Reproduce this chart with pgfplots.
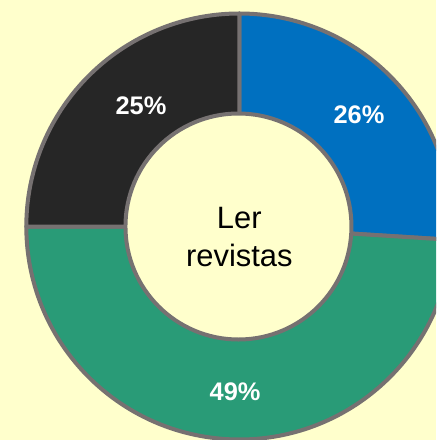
\documentclass[border=0pt]{standalone}
\usepackage{pgfplots}
\usepackage{pgfplotstable}
\pgfplotsset{compat=1.18}
\usepackage{fontspec}
\setmainfont{Liberation Sans}
\definecolor{bg}{HTML}{FFFFCC}
\definecolor{cblue}{HTML}{0070C0}
\definecolor{cgreen}{HTML}{299B77}
\definecolor{cblack}{HTML}{262626}
\definecolor{cborder}{HTML}{767171}
\pgfplotstableread{
value lx ly
26 0.562 0.5235
49 -0.020 -0.777
25 -0.4615 0.5657
}\slices
\begin{document}
\begin{tikzpicture}
\pgfplotstablegetelem{0}{value}\of\slices \let\vA\pgfplotsretval
\pgfplotstablegetelem{1}{value}\of\slices \let\vB\pgfplotsretval
\pgfplotstablegetelem{2}{value}\of\slices \let\vC\pgfplotsretval
\pgfplotstablegetelem{0}{lx}\of\slices \let\xA\pgfplotsretval
\pgfplotstablegetelem{1}{lx}\of\slices \let\xB\pgfplotsretval
\pgfplotstablegetelem{2}{lx}\of\slices \let\xC\pgfplotsretval
\pgfplotstablegetelem{0}{ly}\of\slices \let\yA\pgfplotsretval
\pgfplotstablegetelem{1}{ly}\of\slices \let\yB\pgfplotsretval
\pgfplotstablegetelem{2}{ly}\of\slices \let\yC\pgfplotsretval
\pgfmathsetmacro\aO{90}
\pgfmathsetmacro\aA{90-3.6*\vA}
\pgfmathsetmacro\aB{\aA-3.6*\vB}
\pgfmathsetmacro\aC{\aB-3.6*\vC}
\begin{axis}[
  x=213bp, y=213bp,
  xmin=-1.1235, xmax=0.9235, ymin=-1.0023, ymax=1.0634,
  hide axis, clip=true,
]
\fill[bg] (rel axis cs:0,0) rectangle (rel axis cs:1,1);
\filldraw[fill=cblue, draw=cborder, line width=4bp, line join=round]
  (axis cs:0,0) -- ++(\aO:213bp) arc[start angle=\aO, end angle=\aA, radius=213bp] -- cycle;
\filldraw[fill=cgreen, draw=cborder, line width=4bp, line join=round]
  (axis cs:0,0) -- ++(\aA:213bp) arc[start angle=\aA, end angle=\aB, radius=213bp] -- cycle;
\filldraw[fill=cblack, draw=cborder, line width=4bp, line join=round]
  (axis cs:0,0) -- ++(\aB:213bp) arc[start angle=\aB, end angle=\aC, radius=213bp] -- cycle;
\filldraw[fill=bg, draw=cborder, line width=4bp] (axis cs:-0.004,0) circle[radius=113bp];
\node[anchor=base, inner sep=0, font=\fontsize{31}{37}\selectfont] at (axis cs:0,-0.0117) {Ler};
\node[anchor=base, inner sep=0, font=\fontsize{31}{37}\selectfont] at (axis cs:0,-0.190) {revistas};
\node[inner sep=0, text=white, font=\fontsize{25.5}{30}\selectfont\bfseries] at (axis cs:\xA,\yA) {\vA\%};
\node[inner sep=0, text=white, font=\fontsize{25.5}{30}\selectfont\bfseries] at (axis cs:\xB,\yB) {\vB\%};
\node[inner sep=0, text=white, font=\fontsize{25.5}{30}\selectfont\bfseries] at (axis cs:\xC,\yC) {\vC\%};
\end{axis}
\pgfresetboundingbox
\path[use as bounding box] (current axis.south west) rectangle (current axis.north east);
\end{tikzpicture}
\end{document}
